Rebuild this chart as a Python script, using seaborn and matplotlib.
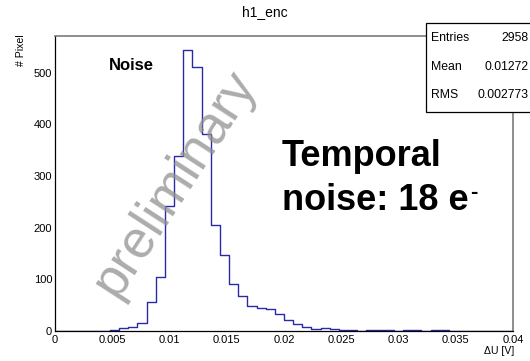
import numpy as np
import pandas as pd
import matplotlib
matplotlib.use("Agg")
import matplotlib.pyplot as plt
from matplotlib.patches import Rectangle
from matplotlib.ticker import MultipleLocator, FixedLocator, FixedFormatter
import seaborn as sns

# Histogram h1_enc: 50 bins between 0 and 0.04 V
n_bins = 50
x_range = (0.0, 0.04)
counts = [0, 0, 0, 0, 0, 0, 1, 5, 7, 15,
          57, 105, 242, 339, 544, 511, 381, 206, 148, 91,
          67, 48, 45, 42, 33, 21, 14, 8, 3, 5,
          3, 1, 1, 0, 1, 1, 1, 0, 1, 1,
          0, 1, 1, 0, 0, 0, 0, 0, 0, 0]
bin_edges = np.linspace(x_range[0], x_range[1], n_bins + 1)
bin_centers = 0.5 * (bin_edges[:-1] + bin_edges[1:])
hist_df = pd.DataFrame({"dU": bin_centers, "n": counts})

xticks = [0.0, 0.005, 0.01, 0.015, 0.02, 0.025, 0.03, 0.035, 0.04]
xtick_labels = ["0", "0.005", "0.01", "0.015", "0.02", "0.025", "0.03", "0.035", "0.04"]
yticks = [0, 100, 200, 300, 400, 500]
ytick_labels = ["0", "100", "200", "300", "400", "500"]

stats_names = ["Entries", "Mean", "RMS"]
stats_values = ["2958", "0.01272", "0.002773"]

sns.set_style("white")
plt.rcParams["font.family"] = ["Liberation Sans", "DejaVu Sans"]
plt.rcParams["text.color"] = "black"

W, H = 530, 361
fig = plt.figure(figsize=(W / 100, H / 100), dpi=100)
fig.patch.set_facecolor("white")
ax = fig.add_axes([55 / W, 1 - 331 / H, (513 - 55) / W, (331 - 36) / H])

sns.histplot(data=hist_df, x="dU", weights="n", bins=n_bins, binrange=x_range,
             element="step", fill=False, color="#2a2aa8", linewidth=1.0, ax=ax)

ax.set_xlim(*x_range)
ax.set_ylim(0, max(counts) * 1.05)
ax.set_xlabel("")
ax.set_ylabel("")

ax.xaxis.set_major_locator(FixedLocator(xticks))
ax.xaxis.set_major_formatter(FixedFormatter(xtick_labels))
ax.xaxis.set_minor_locator(MultipleLocator(0.001))
ax.yaxis.set_major_locator(FixedLocator(yticks))
ax.yaxis.set_major_formatter(FixedFormatter(ytick_labels))
ax.yaxis.set_minor_locator(MultipleLocator(20))

ax.tick_params(axis="both", which="both", direction="in", colors="black",
               top=False, right=False, labelsize=8, width=0.8)
ax.tick_params(axis="y", which="major", length=10, pad=2)
ax.tick_params(axis="y", which="minor", length=5)
ax.tick_params(axis="x", which="major", length=7.5, pad=3)
ax.tick_params(axis="x", which="minor", length=3.6)

for side in ("left", "bottom"):
    ax.spines[side].set_color("black")
    ax.spines[side].set_linewidth(0.9)
for side in ("top", "right"):
    ax.spines[side].set_color("#7a7a7a")
    ax.spines[side].set_linewidth(1.2)

# Axis titles placed at the axis ends
fig.text(514 / W, 1 - 351.5 / H, "ΔU [V]", ha="right", va="center", fontsize=7.6)
fig.text(21.5 / W, 1 - 34 / H, "# Pixel", ha="center", va="top", rotation=90,
         fontsize=7.6)

# Title
fig.text(265 / W, 1 - 12 / H, "h1_enc", ha="center", va="center", fontsize=10)

# Statistics box
box = Rectangle((426 / W, 1 - 111.5 / H), 0.3, (111.5 - 23.3) / H,
                transform=fig.transFigure, facecolor="white",
                edgecolor="black", linewidth=0.9, zorder=10)
fig.patches.append(box)
for i, (name, val) in enumerate(zip(stats_names, stats_values)):
    yy = 1 - (38.3 + i * 28.5) / H
    fig.text(431.5 / W, yy, name, ha="left", va="center", fontsize=8.8, zorder=11)
    fig.text(529 / W, yy, val, ha="right", va="center", fontsize=8.8, zorder=11)

# Annotations
fig.text(109 / W, 1 - 66 / H, "Noise", ha="left", va="center",
         fontsize=12, fontweight="bold")
fig.text(282 / W, 1 - 166.5 / H, "Temporal", ha="left", va="baseline",
         fontsize=26, fontweight="bold")
t2 = fig.text(282 / W, 1 - 210.5 / H, "noise: 18 e", ha="left", va="baseline",
              fontsize=26, fontweight="bold")
ax.annotate("-", xy=(1.0, 1.0), xycoords=t2, xytext=(1, 1),
            textcoords="offset points", ha="left", va="top",
            fontsize=16, fontweight="bold")

# Watermark
fig.text(175 / W, 1 - 183 / H, "preliminary", ha="center", va="center",
         rotation=57, rotation_mode="anchor", fontsize=38,
         color="#909090", alpha=0.75, zorder=20)

fig.savefig("out.png", dpi=100, facecolor="white")
